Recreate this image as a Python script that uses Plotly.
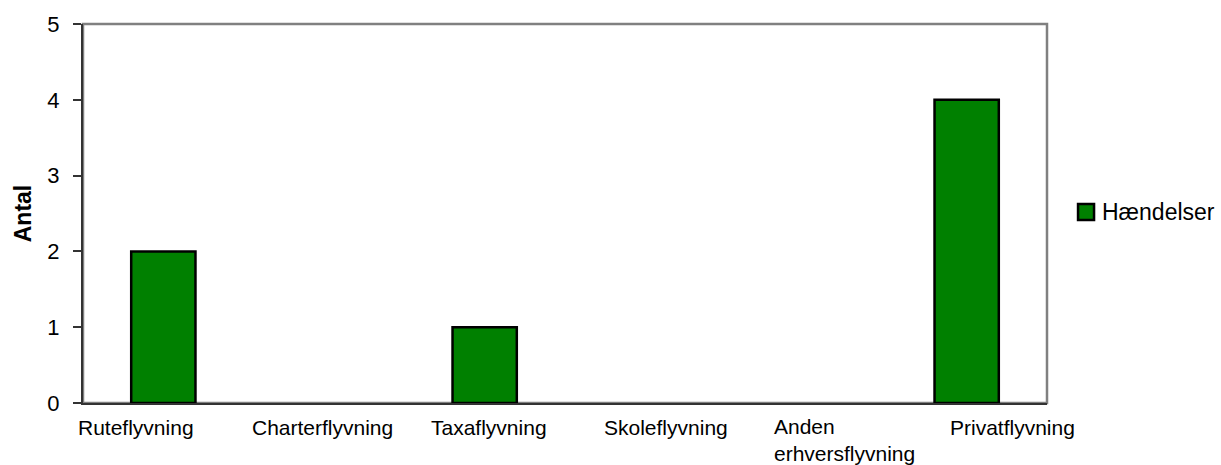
import plotly.graph_objects as go

# Incidents per flight category
categories = ["Ruteflyvning", "Charterflyvning", "Taxaflyvning",
              "Skoleflyvning", "Anden erhversflyvning", "Privatflyvning"]
haendelser = [2, 0, 1, 0, 0, 4]
y_ticks = [0, 1, 2, 3, 4, 5]
series_name = "Hændelser"

# Category label text as printed under the axis, with per-label horizontal offsets
label_text = ["Ruteflyvning", "Charterflyvning", "Taxaflyvning",
              "Skoleflyvning", "Anden<br>erhversflyvning", "Privatflyvning"]
label_shift = [-27, -2, 4, 21, -34, 46]
label_anchor = ["center", "center", "center", "center", "left", "center"]

FONT = "Arial, Liberation Sans, sans-serif"
GREEN = "rgb(0,128,0)"

# Empty categories get no outline so nothing is drawn for them
outline_widths = [2.5 if v > 0 else 0 for v in haendelser]

fig = go.Figure()
fig.add_trace(go.Bar(
    x=categories, y=haendelser, name=series_name,
    marker=dict(color=GREEN, line=dict(color="black", width=outline_widths)),
    showlegend=False,
))

# Gray frame around the plot area (top and right edges visible)
fig.add_shape(type="rect", xref="paper", yref="paper", x0=0, x1=1, y0=0, y1=1,
              line=dict(color="#808080", width=2.5), layer="below")

for cat, txt, dx, anc in zip(categories, label_text, label_shift, label_anchor):
    two_lines = "<br>" in txt
    fig.add_annotation(
        x=cat, xref="x", y=0, yref="paper", text=txt, showarrow=False,
        xanchor=anc, align="left", yanchor="middle",
        xshift=dx, yshift=-37 if two_lines else -24,
        font=dict(family=FONT, size=21, color="black"),
    )

# Legend drawn beside the plot
fig.add_shape(type="rect", xref="paper", yref="paper",
              x0=1.0322, x1=1.0488, y0=0.4828, y1=0.525,
              fillcolor=GREEN, line=dict(color="black", width=2.5))
fig.add_annotation(x=1.0545, xref="paper", y=0.504, yref="paper", text=series_name,
                   showarrow=False, xanchor="left", yanchor="middle",
                   font=dict(family=FONT, size=23, color="black"))

fig.update_layout(
    width=1221, height=465,
    margin=dict(l=83, r=174, t=24, b=62),
    paper_bgcolor="white", plot_bgcolor="white",
    bargap=0.6,
    font=dict(family=FONT, size=21, color="black"),
    xaxis=dict(range=[-0.5, len(categories) - 0.5], autorange=False,
               showticklabels=False, ticks="", showgrid=False, zeroline=False,
               showline=True, linecolor="#333333", linewidth=2, mirror=False,
               layer="above traces"),
    yaxis=dict(range=[0, 5], tickvals=y_ticks, showgrid=False, zeroline=False,
               showline=True, linecolor="#333333", linewidth=2,
               ticks="outside", ticklen=8, tickwidth=1.5, tickcolor="#333333",
               ticklabelstandoff=9,
               tickfont=dict(family=FONT, size=22, color="black"),
               title=dict(text="<b>Antal</b>", standoff=9,
                          font=dict(family=FONT, size=23, color="black"))),
)

fig.write_html("out.html")
